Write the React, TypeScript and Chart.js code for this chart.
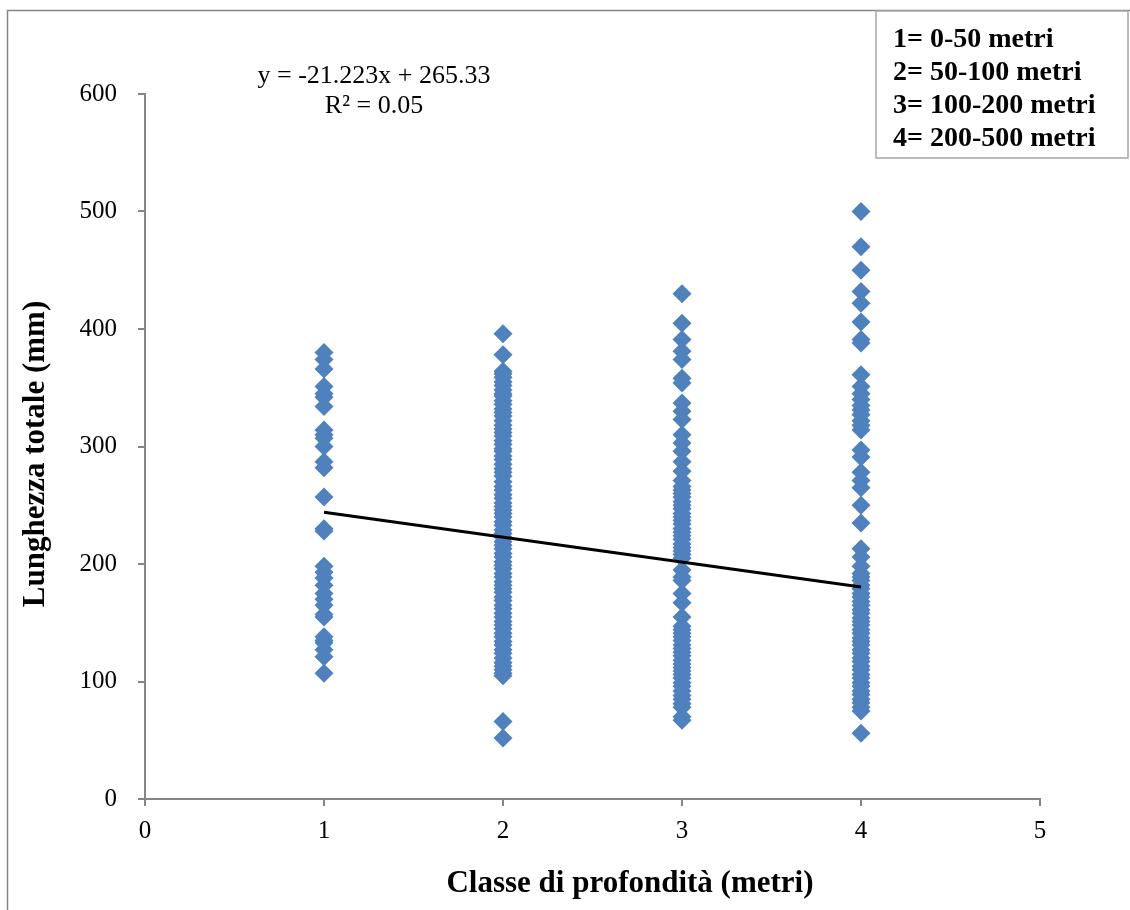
import React, { useEffect, useRef } from "react";
import { Chart, registerables } from "chart.js";

Chart.register(...registerables);

// Lunghezza totale (mm) per classe di profondità
const classe1 = [380, 374, 366, 351, 345, 342, 334, 314, 310, 307, 300, 287, 282, 257, 230, 228, 198, 193, 188, 182, 175, 170, 165, 157, 155, 138, 135, 133, 127, 121, 107];
const classe2 = [396, 378, 364, 362, 359, 355, 352, 348, 345, 343, 339, 336, 332, 329, 326, 322, 318, 315, 312, 309, 305, 302, 298, 296, 292, 289, 285, 281, 278, 275, 270, 266, 263, 259, 256, 252, 249, 246, 243, 240, 236, 233, 229, 226, 223, 219, 216, 213, 209, 206, 202, 199, 196, 192, 189, 185, 182, 179, 176, 172, 169, 165, 162, 158, 155, 151, 148, 145, 141, 138, 134, 131, 127, 124, 120, 116, 113, 110, 107, 105, 66, 52];
const classe3 = [430, 405, 391, 381, 374, 358, 354, 337, 330, 323, 310, 303, 296, 287, 279, 271, 266, 263, 260, 257, 253, 250, 247, 243, 240, 237, 234, 230, 227, 224, 221, 217, 214, 211, 208, 205, 195, 189, 186, 175, 167, 155, 147, 144, 141, 138, 135, 131, 128, 125, 122, 118, 115, 112, 109, 106, 103, 99, 96, 92, 88, 85, 81, 78, 70, 67];
const classe4 = [500, 470, 450, 432, 422, 406, 391, 388, 361, 351, 345, 340, 335, 331, 327, 322, 318, 314, 297, 291, 278, 271, 265, 250, 235, 213, 206, 198, 192, 189, 186, 182, 179, 175, 172, 168, 165, 161, 158, 154, 151, 148, 144, 141, 137, 134, 131, 127, 124, 120, 117, 113, 110, 106, 103, 99, 96, 92, 89, 85, 82, 78, 75, 56];

const classValues = [1, 2, 3, 4];
const trendSlope = -21.223;
const trendIntercept = 265.33;
const trendX = [1, 4];

const equationLines = ["y = -21.223x + 265.33", "R² = 0.05"];
const legendLines = ["1= 0-50 metri", "2= 50-100 metri", "3= 100-200 metri", "4= 200-500 metri"];
const xTitle = "Classe di profondità (metri)";
const yTitle = "Lunghezza totale (mm)";

const FONT = "'Liberation Serif', 'Times New Roman', serif";
const GRAY = "#868686";
const BLUE = "#4F81BD";

const decorPlugin = {
  id: "decor",
  beforeDraw(chart: any) {
    const ctx = chart.ctx;
    ctx.save();
    ctx.fillStyle = "#ffffff";
    ctx.fillRect(0, 0, chart.width, chart.height);
    ctx.strokeStyle = GRAY;
    ctx.lineWidth = 1.5;
    ctx.beginPath();
    ctx.moveTo(7.5, chart.height);
    ctx.lineTo(7.5, 10.5);
    ctx.lineTo(chart.width, 10.5);
    ctx.stroke();
    ctx.restore();
  },
  afterDraw(chart: any) {
    const ctx = chart.ctx;
    ctx.save();
    // legend box
    ctx.fillStyle = "#ffffff";
    ctx.fillRect(876, 11, 252, 147);
    ctx.strokeStyle = "#a6a6a6";
    ctx.lineWidth = 1.5;
    ctx.strokeRect(876, 11, 252, 147);
    ctx.fillStyle = "#000";
    ctx.font = `bold 28px ${FONT}`;
    ctx.textAlign = "left";
    ctx.textBaseline = "middle";
    legendLines.forEach((t, i) => ctx.fillText(t, 893, 40 + i * 33));

    // equation
    ctx.font = `26px ${FONT}`;
    ctx.textAlign = "center";
    ctx.fillText(equationLines[0], 374, 76);
    ctx.fillText(equationLines[1], 374, 106);

    // axis titles
    ctx.font = `bold 31px ${FONT}`;
    ctx.fillText(xTitle, 630, 884);
    ctx.translate(36, 454);
    ctx.rotate(-Math.PI / 2);
    ctx.fillText(yTitle, 0, 0);
    ctx.restore();
  },
};

export default function App() {
  const ref = useRef<HTMLCanvasElement | null>(null);

  useEffect(() => {
    if (!ref.current) return;
    const groups = [classe1, classe2, classe3, classe4];
    const points: { x: number; y: number }[] = [];
    groups.forEach((vals, gi) => vals.forEach((v) => points.push({ x: classValues[gi], y: v })));
    const trend = trendX.map((x) => ({ x, y: trendSlope * x + trendIntercept }));

    const tickFont = { family: FONT, size: 25 };
    const chart = new Chart(ref.current, {
      type: "scatter",
      data: {
        datasets: [
          {
            type: "line",
            label: "Lineare",
            data: trend,
            borderColor: "#000",
            borderWidth: 3,
            pointRadius: 0,
            showLine: true,
            fill: false,
            order: 0,
          } as any,
          {
            label: "Lunghezza",
            data: points,
            pointStyle: "rectRot",
            pointRadius: 9.5,
            backgroundColor: BLUE,
            borderColor: BLUE,
            borderWidth: 0,
            order: 1,
          },
        ],
      },
      options: {
        responsive: false,
        animation: false,
        devicePixelRatio: 1,
        layout: { padding: { top: 94, right: 90, left: 0, bottom: 0 } },
        plugins: { legend: { display: false }, tooltip: { enabled: false } },
        scales: {
          x: {
            type: "linear",
            min: 0,
            max: 5,
            afterFit: (s: any) => {
              s.height = 111;
            },
            ticks: { stepSize: 1, padding: 10, font: tickFont, color: "#000" },
            grid: { drawOnChartArea: false, drawTicks: true, tickLength: 7, color: GRAY, lineWidth: 2 },
            border: { color: GRAY, width: 2 },
          },
          y: {
            type: "linear",
            min: 0,
            max: 600,
            afterFit: (s: any) => {
              s.width = 145;
            },
            ticks: { stepSize: 100, padding: 21, font: tickFont, color: "#000" },
            grid: { drawOnChartArea: false, drawTicks: true, tickLength: 7, color: GRAY, lineWidth: 2 },
            border: { color: GRAY, width: 2 },
          },
        },
      },
      plugins: [decorPlugin],
    });
    return () => chart.destroy();
  }, []);

  return (
    <div style={{ position: "fixed", left: 0, top: 0, width: 1130, height: 910 }}>
      <canvas ref={ref} width={1130} height={910} style={{ width: 1130, height: 910 }} />
    </div>
  );
}
